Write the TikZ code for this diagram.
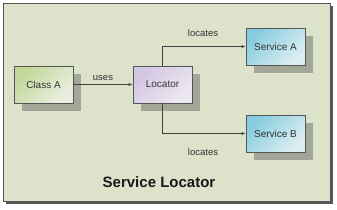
\documentclass[tikz,border=0pt]{standalone}
\usepackage{fontspec}
\setmainfont{Liberation Sans}
\usetikzlibrary{arrows.meta}
\definecolor{bgc}{HTML}{DDE2CB}
\definecolor{shadowc}{HTML}{A3A797}
\definecolor{edgec}{HTML}{555555}
\definecolor{greenA}{HTML}{C2D797}
\definecolor{greenB}{HTML}{EAEEE2}
\definecolor{lavA}{HTML}{D2C6E2}
\definecolor{lavB}{HTML}{ECE8F0}
\definecolor{cyanA}{HTML}{86CCDE}
\definecolor{cyanB}{HTML}{DDEEF2}
\begin{document}
\begin{tikzpicture}[x=1pt,y=-1pt,
  box/.style={draw=edgec, line width=0.7pt, minimum width=59pt, minimum height=37pt,
    inner sep=0pt, font=\fontsize{10}{12}\selectfont, text=black!80, shading=axis, shading angle=45},
  shadowbox/.style={fill=shadowc, draw=none, minimum width=59pt, minimum height=37pt, inner sep=0pt},
  conn/.style={draw=black!75, line width=0.6pt, -{Latex[length=4pt,width=3pt]}},
  lbl/.style={font=\fontsize{9.5}{11}\selectfont, text=black!80}]
\useasboundingbox (0,0) rectangle (337,209);
\fill[white] (0,0) rectangle (337,209);
% frame
\fill[black!65] (6,6) rectangle (333,204);
\fill[bgc] (3,3) rectangle (330,201);
\draw[edgec, line width=0.8pt] (3,3) rectangle (330,201);
% shadows
\node[shadowbox] (sc) at (51.5,92.5) {};
\node[shadowbox] (sl) at (170.5,92.5) {};
\node[shadowbox] (ssa) at (283.5,54.5) {};
\node[shadowbox] (ssb) at (283.5,141.5) {};
% boxes
\node[box, top color=greenA, bottom color=greenB, shading angle=45] (ca) at (43.5,84.5) {Class A};
\node[box, top color=lavA, bottom color=lavB, shading angle=45] (loc) at (162.5,84.5) {Locator};
\node[box, top color=cyanA, bottom color=cyanB, shading angle=45] (sa) at (275.5,46.5) {Service A};
\node[box, top color=cyanA, bottom color=cyanB, shading angle=45] (sb) at (275.5,133.5) {Service B};
% connectors
\draw[conn] (ca.east) -- node[lbl, above=0pt] {uses} (loc.west);
\draw[conn] (loc.north) |- (sa.west);
\draw[conn] (loc.south) |- (sb.west);
\node[lbl] (la) at (203,33) {locates};
\node[lbl] (lb) at (203,152) {locates};
\node[font=\bfseries\fontsize{15}{18}\selectfont, text=black!90] (title) at (159,182) {Service Locator};
\end{tikzpicture}
\end{document}
